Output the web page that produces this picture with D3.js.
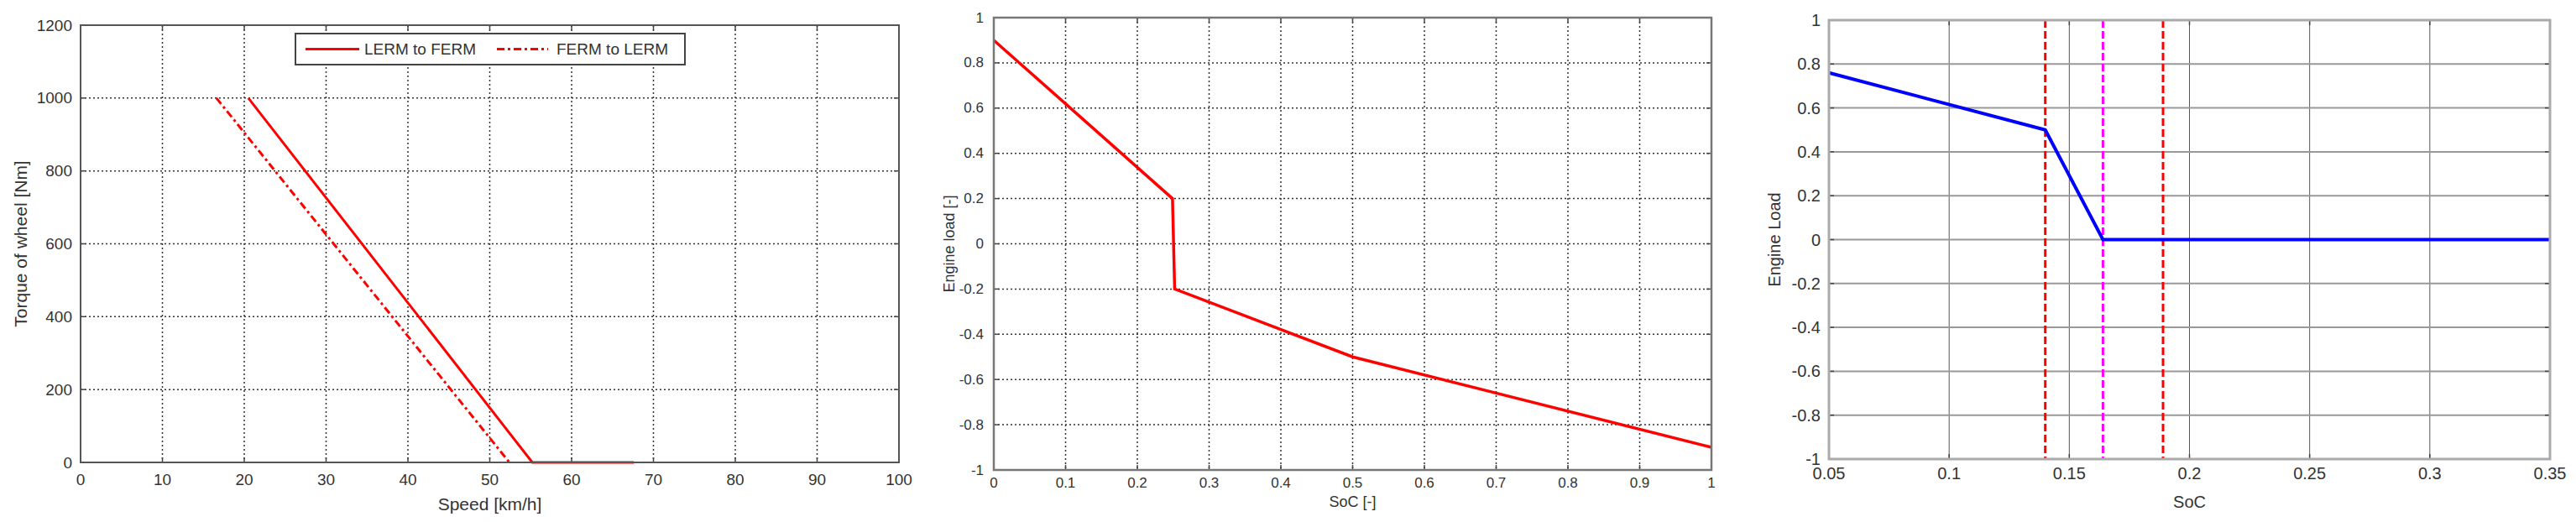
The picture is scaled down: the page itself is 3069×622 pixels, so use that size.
<!DOCTYPE html>
<html>
<head>
<meta charset="utf-8">
<script src="https://cdn.jsdelivr.net/npm/d3@7"></script>
<style>
  body { margin: 0; background: #fff; }
  text { font-family: "Liberation Sans", Arial, sans-serif; fill: #333; }
</style>
</head>
<body>
<svg id="chart" width="3069" height="622"></svg>
<script>
// ---- data ----
// left panel: switching thresholds, torque vs speed
const speedTicks = [0, 10, 20, 30, 40, 50, 60, 70, 80, 90, 100];
const torqueTicks = [0, 200, 400, 600, 800, 1000, 1200];
const lermToFermSpeed = [20.5, 55.2, 67.6];
const lermToFermTorque = [1000, 0, 0];
const fermToLermSpeed = [16.6, 52.4];
const fermToLermTorque = [1000, 0];
const legendNames = ["LERM to FERM", "FERM to LERM"];

// middle panel: engine load vs SoC
const socTicksMid = [0, 0.1, 0.2, 0.3, 0.4, 0.5, 0.6, 0.7, 0.8, 0.9, 1];
const loadTicks = [-1, -0.8, -0.6, -0.4, -0.2, 0, 0.2, 0.4, 0.6, 0.8, 1];
const socMid = [0, 0.249, 0.252, 0.5, 1];
const loadMid = [0.9, 0.2, -0.2, -0.5, -0.9];

// right panel: engine load vs SoC (zoomed)
const socTicksRight = [0.05, 0.1, 0.15, 0.2, 0.25, 0.3, 0.35];
const socRight = [0.05, 0.14, 0.164, 0.35];
const loadRight = [0.76, 0.5, 0, 0];
const redMarkers = [0.14, 0.189];
const magentaMarkers = [0.164];

const svg = d3.select("#chart");
svg.append("rect").attr("width", 3069).attr("height", 622).attr("fill", "#fff");

// builds one panel with grid, ticks and labels; returns scales and group
function panel(cfg) {
    const x = d3.scaleLinear().domain(cfg.xDomain).range([cfg.left, cfg.right]);
    const y = d3.scaleLinear().domain(cfg.yDomain).range([cfg.bottom, cfg.top]);
    const g = svg.append("g");

    // grid
    g.selectAll(null).data(cfg.xTicks.slice(1, -1)).enter().append("line")
        .attr("x1", d => x(d)).attr("x2", d => x(d))
        .attr("y1", cfg.top).attr("y2", cfg.bottom)
        .attr("stroke", cfg.vGrid.color).attr("stroke-width", cfg.vGrid.width)
        .attr("stroke-dasharray", cfg.vGrid.dash);
    g.selectAll(null).data(cfg.yTicks.slice(1, -1)).enter().append("line")
        .attr("y1", d => y(d)).attr("y2", d => y(d))
        .attr("x1", cfg.left).attr("x2", cfg.right)
        .attr("stroke", cfg.hGrid.color).attr("stroke-width", cfg.hGrid.width)
        .attr("stroke-dasharray", cfg.hGrid.dash);

    // inward ticks on all four sides
    const tl = 6;
    [[cfg.bottom, -tl], [cfg.top, tl]].forEach(([yy, d]) => {
        g.selectAll(null).data(cfg.xTicks).enter().append("line")
            .attr("x1", v => x(v)).attr("x2", v => x(v))
            .attr("y1", yy).attr("y2", yy + d)
            .attr("stroke", "#444").attr("stroke-width", 1.5);
    });
    [[cfg.left, tl], [cfg.right, -tl]].forEach(([xx, d]) => {
        g.selectAll(null).data(cfg.yTicks).enter().append("line")
            .attr("y1", v => y(v)).attr("y2", v => y(v))
            .attr("x1", xx).attr("x2", xx + d)
            .attr("stroke", "#444").attr("stroke-width", 1.5);
    });

    // tick labels
    g.selectAll(null).data(cfg.xTicks).enter().append("text")
        .attr("x", d => x(d)).attr("y", cfg.bottom + cfg.xLabelOffset)
        .attr("text-anchor", "middle").attr("dominant-baseline", "central")
        .style("font-size", cfg.tickFont + "px")
        .text(d => String(d));
    g.selectAll(null).data(cfg.yTicks).enter().append("text")
        .attr("x", cfg.left - cfg.yLabelOffset).attr("y", d => y(d))
        .attr("text-anchor", "end").attr("dominant-baseline", "central")
        .style("font-size", cfg.tickFont + "px")
        .text(d => String(d));

    // axis titles
    g.append("text")
        .attr("x", (cfg.left + cfg.right) / 2).attr("y", cfg.xTitleY)
        .attr("text-anchor", "middle").attr("dominant-baseline", "central")
        .style("font-size", cfg.titleFont + "px")
        .text(cfg.xTitle);
    g.append("text")
        .attr("transform", "translate(" + cfg.yTitleX + "," + ((cfg.top + cfg.bottom) / 2) + ") rotate(-90)")
        .attr("text-anchor", "middle").attr("dominant-baseline", "central")
        .style("font-size", cfg.titleFont + "px")
        .text(cfg.yTitle);

    return {x: x, y: y, g: g, cfg: cfg};
}

function frame(p) {
    const c = p.cfg;
    p.g.append("rect")
        .attr("x", c.left).attr("y", c.top)
        .attr("width", c.right - c.left).attr("height", c.bottom - c.top)
        .attr("fill", "none").attr("stroke", c.frameColor).attr("stroke-width", c.frameWidth);
}

const lineGen = (p) => d3.line().x(d => p.x(d[0])).y(d => p.y(d[1]));
const dotted = {color: "#333", width: 1.5, dash: "2,3"};

///// LEFT PANEL /////
const p1 = panel({
    left: 96, right: 1071, top: 30, bottom: 551,
    xDomain: [0, 100], yDomain: [0, 1200],
    xTicks: speedTicks, yTicks: torqueTicks,
    vGrid: dotted, hGrid: dotted,
    tickFont: 19, titleFont: 21, xLabelOffset: 20, yLabelOffset: 10,
    xTitle: "Speed [km/h]", xTitleY: 600,
    yTitle: "Torque of wheel [Nm]", yTitleX: 24,
    frameColor: "#555", frameWidth: 2
});
p1.g.append("path")
    .datum(d3.zip(lermToFermSpeed, lermToFermTorque))
    .attr("d", lineGen(p1))
    .attr("fill", "none").attr("stroke", "#ff0000").attr("stroke-width", 3);
p1.g.append("path")
    .datum(d3.zip(fermToLermSpeed, fermToLermTorque))
    .attr("d", lineGen(p1))
    .attr("fill", "none").attr("stroke", "#ff0000").attr("stroke-width", 3)
    .attr("stroke-dasharray", "9,4,3,4");
frame(p1);

// legend
const legend = p1.g.append("g");
legend.append("rect")
    .attr("x", 352).attr("y", 40).attr("width", 464).attr("height", 37)
    .attr("fill", "#fff").attr("stroke", "#444").attr("stroke-width", 2);
const legendItems = [
    {name: legendNames[0], x0: 364, x1: 428, tx: 434, dash: null},
    {name: legendNames[1], x0: 592, x1: 653, tx: 663, dash: "9,4,3,4"}
];
legendItems.forEach(it => {
    legend.append("line")
        .attr("x1", it.x0).attr("x2", it.x1).attr("y1", 58.5).attr("y2", 58.5)
        .attr("stroke", "#ff0000").attr("stroke-width", 3)
        .attr("stroke-dasharray", it.dash);
    legend.append("text")
        .attr("x", it.tx).attr("y", 58.5).attr("dominant-baseline", "central")
        .style("font-size", "19px")
        .text(it.name);
});

///// MIDDLE PANEL /////
const p2 = panel({
    left: 1184, right: 2039, top: 21, bottom: 560,
    xDomain: [0, 1], yDomain: [-1, 1],
    xTicks: socTicksMid, yTicks: loadTicks,
    vGrid: dotted, hGrid: dotted,
    tickFont: 17, titleFont: 18, xLabelOffset: 15, yLabelOffset: 12,
    xTitle: "SoC [-]", xTitleY: 598,
    yTitle: "Engine load [-]", yTitleX: 1131,
    frameColor: "#777", frameWidth: 2.5
});
p2.g.append("path")
    .datum(d3.zip(socMid, loadMid))
    .attr("d", lineGen(p2))
    .attr("fill", "none").attr("stroke", "#ff0000").attr("stroke-width", 3.5);
frame(p2);

///// RIGHT PANEL /////
const p3 = panel({
    left: 2179, right: 3038, top: 24, bottom: 547,
    xDomain: [0.05, 0.35], yDomain: [-1, 1],
    xTicks: socTicksRight, yTicks: loadTicks,
    vGrid: {color: "#555", width: 1, dash: null},
    hGrid: {color: "#999", width: 2, dash: null},
    tickFont: 20, titleFont: 20, xLabelOffset: 17, yLabelOffset: 10,
    xTitle: "SoC", xTitleY: 598,
    yTitle: "Engine Load", yTitleX: 2114,
    frameColor: "#aaa", frameWidth: 3
});
p3.g.selectAll(null).data(redMarkers).enter().append("line")
    .attr("x1", d => p3.x(d)).attr("x2", d => p3.x(d))
    .attr("y1", p3.cfg.top).attr("y2", p3.cfg.bottom)
    .attr("stroke", "#ff0000").attr("stroke-width", 3).attr("stroke-dasharray", "9,4");
p3.g.selectAll(null).data(magentaMarkers).enter().append("line")
    .attr("x1", d => p3.x(d)).attr("x2", d => p3.x(d))
    .attr("y1", p3.cfg.top).attr("y2", p3.cfg.bottom)
    .attr("stroke", "#ff00ff").attr("stroke-width", 3).attr("stroke-dasharray", "9,4");
p3.g.append("path")
    .datum(d3.zip(socRight, loadRight))
    .attr("d", lineGen(p3))
    .attr("fill", "none").attr("stroke", "#0000ff").attr("stroke-width", 4);
frame(p3);
</script>
</body>
</html>
